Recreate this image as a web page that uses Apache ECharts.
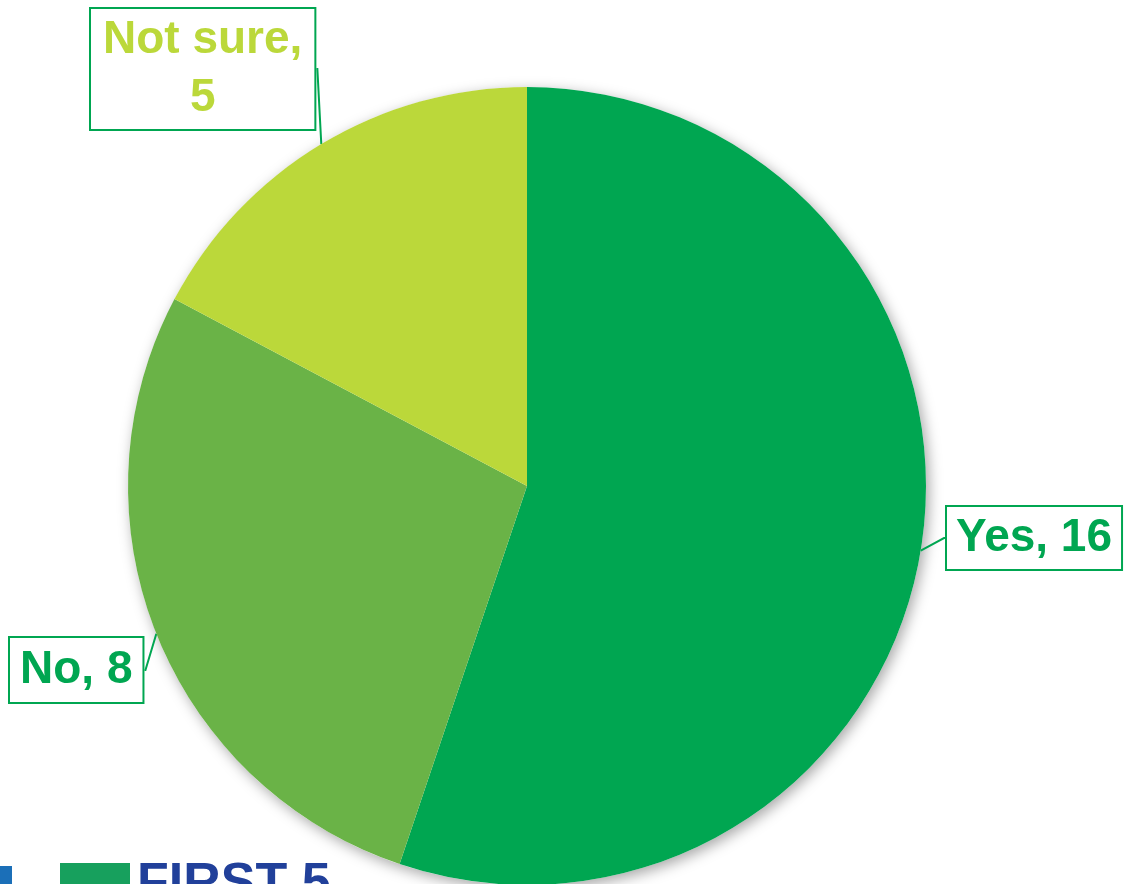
<!DOCTYPE html>
<html>
<head>
<meta charset="utf-8">
<script src="https://cdn.jsdelivr.net/npm/echarts@6/dist/echarts.min.js"></script>
<style>
  html, body { margin: 0; padding: 0; background: #ffffff; }
  #chart { width: 1125px; height: 884px; }
</style>
</head>
<body>
<div id="chart"></div>
<script>
// Survey answers
const categories = ['Yes', 'No', 'Not sure'];
const counts = [16, 8, 5];
const sliceColors = ['#00A651', '#6AB347', '#BBD83A'];
const labelColors = ['#00A651', '#00A651', '#BBD83A'];

// Where each callout box sits (top-left corner, px)
const calloutPos = {
  'Yes': [945, 505],
  'No': [8, 636],
  'Not sure': [89, 7]
};
const calloutPad = {
  'Yes': [2, 9, 2, 9],
  'No': [3, 10, 3, 10],
  'Not sure': [2, 12, 2, 12]
};

const data = categories.map((name, i) => ({
  name: name,
  value: counts[i],
  itemStyle: { color: sliceColors[i] },
  label: { color: labelColors[i], padding: calloutPad[name] }
}));

const chart = echarts.init(document.getElementById('chart'));
chart.setOption({
  backgroundColor: '#ffffff',
  animation: false,
  series: [
    {
      // soft drop shadow behind the whole disc
      type: 'pie',
      silent: true,
      center: [527, 486],
      radius: 399,
      z: 1,
      data: [{ value: 1, name: '' }],
      label: { show: false },
      labelLine: { show: false },
      itemStyle: {
        color: '#ffffff',
        shadowBlur: 14,
        shadowColor: 'rgba(0,0,0,0.35)',
        shadowOffsetX: 3,
        shadowOffsetY: 4
      }
    },
    {
      type: 'pie',
      center: [527, 486],
      radius: 399,
      startAngle: 90,
      clockwise: true,
      z: 2,
      bleedMargin: 0,
      data: data,
      label: {
        show: true,
        position: 'outside',
        overflow: 'none',
        formatter: p => p.name === 'Not sure' ? 'Not sure,\n' + p.value : p.name + ', ' + p.value,
        fontFamily: '"Liberation Sans", Arial, sans-serif',
        fontWeight: 'bold',
        fontSize: 46,
        lineHeight: 58,
        align: 'center',
        backgroundColor: '#ffffff',
        borderColor: '#00A651',
        borderWidth: 2
      },
      labelLine: {
        show: true,
        length: 2,
        length2: 1,
        lineStyle: { color: '#00A651', width: 2 }
      },
      labelLayout: function (params) {
        const name = categories[params.dataIndex];
        const pos = calloutPos[name];
        return {
          x: pos[0] + params.labelRect.width / 2,
          y: pos[1] + params.labelRect.height / 2,
          align: 'center',
          verticalAlign: 'middle'
        };
      }
    }
  ],
  graphic: [
    { type: 'rect', left: 0, top: 866, shape: { width: 12, height: 18 }, style: { fill: '#1B6FB8' } },
    { type: 'rect', left: 60, top: 863, shape: { width: 70, height: 21 }, style: { fill: '#17A05D' } },
    {
      type: 'text', left: 137, top: 859,
      style: {
        text: 'FIRST 5',
        font: 'bold 52px "Liberation Sans", Arial, sans-serif',
        fill: '#21409A'
      }
    }
  ]
});
</script>
</body>
</html>
